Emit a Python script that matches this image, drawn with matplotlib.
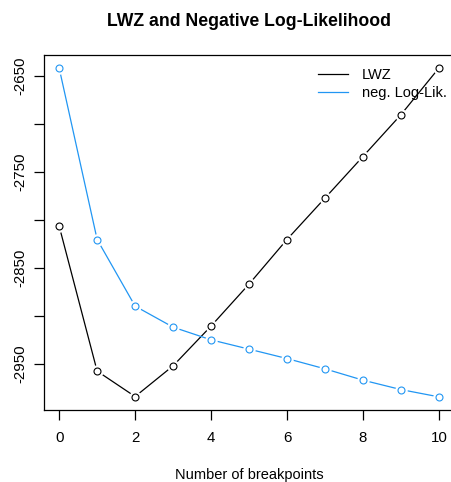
import matplotlib
matplotlib.use("Agg")
import matplotlib.pyplot as plt

plt.rcParams['font.family'] = ['Liberation Sans', 'DejaVu Sans']

# data
breakpoints = list(range(0, 11))
lwz = [-2806.6, -2957.6, -2984.1, -2952.1, -2910.7, -2867.0,
       -2820.5, -2777.4, -2734.1, -2690.6, -2642.0]
neg_loglik = [-2642.0, -2820.5, -2889.9, -2911.8, -2925.0, -2934.7,
              -2944.5, -2955.2, -2967.0, -2976.8, -2984.4]
x_ticks = [0, 2, 4, 6, 8, 10]
y_ticks = [-2950, -2900, -2850, -2800, -2750, -2700, -2650]
y_labels = ['-2950', '', '-2850', '', '-2750', '', '-2650']

blue = '#2196F3'

fig = plt.figure(figsize=(4.52, 4.82), dpi=100)
ax = fig.add_axes([44 / 452, (482 - 410) / 482, (454 - 44) / 452, (410 - 55) / 482])

# type="b" look: line, white halo under each point, then open circle
for ys, col, name in [(lwz, 'black', 'LWZ'), (neg_loglik, blue, 'neg. Log-Lik.')]:
    ax.plot(breakpoints, ys, color=col, lw=0.9, label=name, zorder=2)
    ax.plot(breakpoints, ys, ls='none', marker='o', ms=9, mfc='white', mec='none', zorder=3)
    ax.plot(breakpoints, ys, ls='none', marker='o', ms=5, mfc='white', mec=col, mew=0.8, zorder=4)

ax.margins(x=0.04, y=0.04)
ax.set_xticks(x_ticks)
ax.set_yticks(y_ticks)
ax.set_yticklabels(y_labels, rotation=90, va='center')
ax.tick_params(axis='both', direction='out', length=7, width=0.9, labelsize=10.8)
ax.tick_params(axis='x', pad=8)
ax.tick_params(axis='y', pad=5)
for s in ax.spines.values():
    s.set_linewidth(0.9)

ax.set_xlabel("Number of breakpoints", fontsize=10.5, labelpad=17)
ax.set_title("LWZ and Negative Log-Likelihood", fontsize=12.7, fontweight='bold', pad=21)

leg = ax.legend(loc='upper right', frameon=False, fontsize=10.5, handlelength=2.0,
                handletextpad=1.0, labelspacing=0.3, bbox_to_anchor=(1.015, 1.001))
leg.set_zorder(1)

fig.savefig("out.png", dpi=100)
